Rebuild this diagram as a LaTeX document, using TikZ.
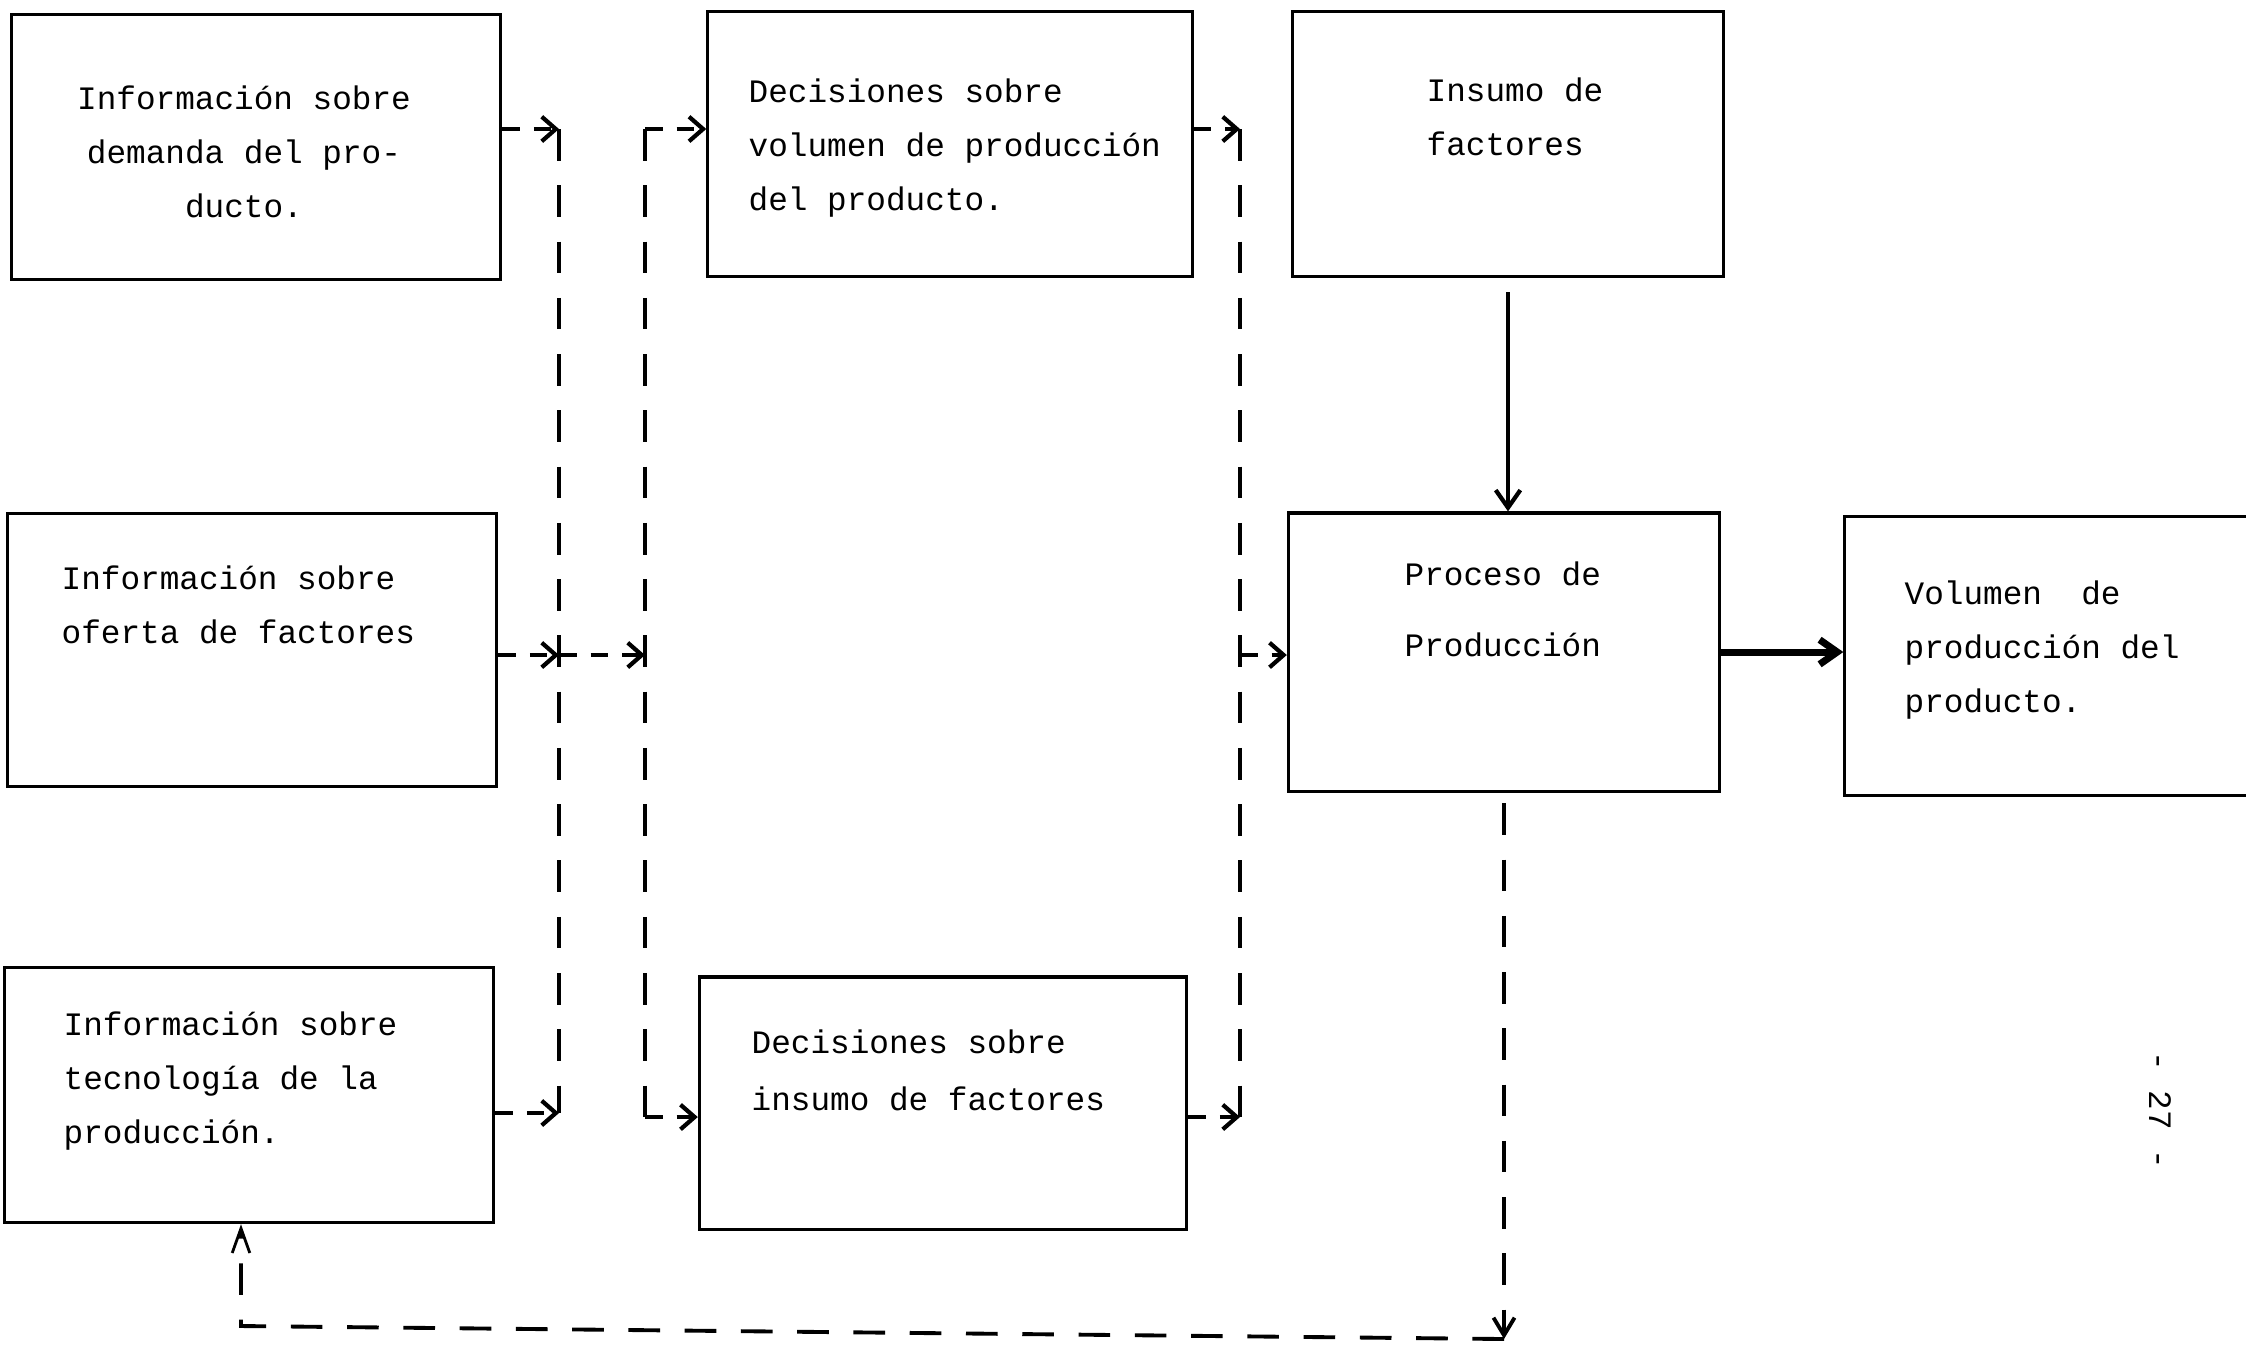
\documentclass[tikz,border=0pt]{standalone}
\usepackage{fontspec}
\setmonofont{Liberation Mono}
\usetikzlibrary{arrows.meta}
\tikzset{
    plain-box/.style = {draw, rectangle, line width=0.9pt, inner sep=0pt},
    box-text/.style = {font=\ttfamily\fontsize{9.3}{15.3}\selectfont, inner sep=0pt, anchor=north west, align=left},
    dash-link/.style = {line width=1.2pt, dash pattern=on 5pt off 4pt, -{Straight Barb[length=4pt,width=7pt,line width=1.2pt]}},
    long-link/.style = {line width=1.1pt, dash pattern=on 9pt off 7pt},
    solid-link/.style = {line width=1.2pt, -{Straight Barb[length=5pt,width=7pt]}},
}

\begin{document}
\begin{tikzpicture}[x=0.01cm, y=-0.01cm]
\clip (0,0) rectangle (2246,1344);
% boxes
\node[plain-box, minimum width=4.89cm, minimum height=2.65cm] (demanda) at (256,147) {};
\node[plain-box, minimum width=4.89cm, minimum height=2.73cm] (oferta) at (252,650) {};
\node[plain-box, minimum width=4.89cm, minimum height=2.55cm] (tecno) at (249,1095) {};
\node[plain-box, minimum width=4.84cm, minimum height=2.65cm] (decvol) at (950,144) {};
\node[plain-box, minimum width=4.87cm, minimum height=2.52cm] (decins) at (943,1103) {};
\node[plain-box, minimum width=4.30cm, minimum height=2.65cm] (insumo) at (1508,144) {};
\node[plain-box, minimum width=4.31cm, minimum height=2.78cm] (proceso) at (1504,652) {};
\node[plain-box, minimum width=4.30cm, minimum height=2.79cm] (volumen) at (2060,656) {};
% texts
\node[box-text, anchor=north, align=center] (demanda-text) at (244,85) {Información sobre\\demanda del pro-\\ducto.};
\node[box-text] (oferta-text) at (61,565) {Información sobre\\oferta de factores};
\node[box-text] (tecno-text) at (63,1011) {Información sobre\\tecnología de la\\producción.};
\node[box-text] (decvol-text) at (748,78) {Decisiones sobre\\volumen de producción\\del producto.};
\node[box-text] (decins-text) at (751,1029) {Decisiones sobre\\[1pt]insumo de factores};
\node[box-text] (insumo-text) at (1426,77) {Insumo de\\factores};
\node[box-text] (proceso-text) at (1404,561) {Proceso de\\[5pt]Producción};
\node[box-text] (volumen-text) at (1904,580) {Volumen~~de\\producción del\\producto.};
\node[box-text, anchor=center, rotate=-90] (page-num) at (2160,1110) {-~27~-};
% junctions
\coordinate (j1) at (559,129);
\coordinate (j2) at (559,655);
\coordinate (j3) at (559,1113);
\coordinate (k1) at (645,129);
\coordinate (k3) at (645,1117);
\coordinate (m1) at (1240,129);
\coordinate (m2) at (1240,655);
\coordinate (m3) at (1240,1117);
\coordinate (p1) at (1504,1339);
\coordinate (p2) at (241,1326);
% connectors
\draw[dash-link] (demanda.east |- j1) -- (j1);
\draw[dash-link] (oferta.east |- j2) -- (j2);
\draw[dash-link] (j2) -- (j2 -| k1);
\draw[dash-link] (tecno.east |- j3) -- (j3);
\draw[long-link] (j1) -- (j3);
\draw[long-link] (k1) -- (k3);
\draw[dash-link] (k1) -- (decvol.west |- k1);
\draw[dash-link] (k3) -- (decins.west |- k3);
\draw[dash-link] (decvol.east |- m1) -- (m1);
\draw[dash-link] (decins.east |- m3) -- (m3);
\draw[long-link] (m1) -- (m3);
\draw[dash-link] (m2) -- (proceso.west |- m2);
\draw[solid-link] (insumo.south) ++(0,14) -- (insumo.south |- proceso.north);
\draw[solid-link, line width=2pt] (proceso.east) -- (volumen.west |- proceso.east);
\draw[long-link, -{Straight Barb[length=5pt,width=6pt,line width=1.1pt]}, shorten <=3pt] (proceso.south) -- (p1);
\draw[long-link, -{Straight Barb[length=7pt,width=5pt,line width=0.8pt]}] (p1) -- (p2) -- (p2 |- tecno.south);
\end{tikzpicture}
\end{document}
